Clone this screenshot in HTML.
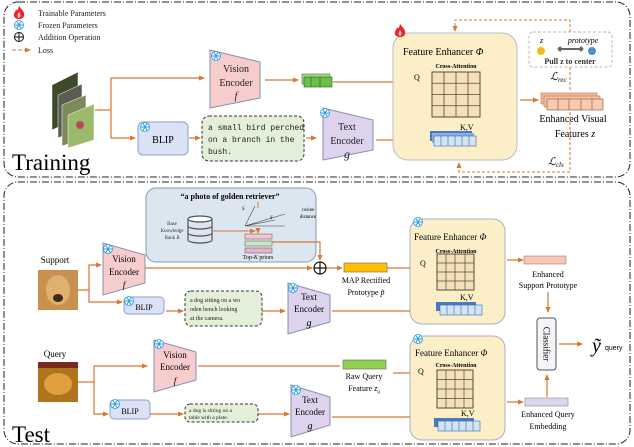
<!DOCTYPE html>
<html><head><meta charset="utf-8"><style>
body{margin:0;background:#fff}
svg{display:block;font-family:"Liberation Serif",serif}
</style></head><body>
<svg width="634" height="447" viewBox="0 0 634 447" xmlns="http://www.w3.org/2000/svg">
<defs>
<marker id="a" markerWidth="6" markerHeight="6" refX="5" refY="3" orient="auto" markerUnits="userSpaceOnUse"><path d="M0,0.5 L6,3 L0,5.5z" fill="#d9762f"/></marker>
<g id="fire"><path d="M6,0 C9,4 12,6 11,10 C10,14 2,14 1,10 C0,7 3,6 3,3 C4,5 5,5 6,0z" fill="#e8262a"/><path d="M6,6 C8,8 8,11 6,12 C4,11 4,9 6,6z" fill="#fff" opacity=".7"/></g>
<g id="snow"><circle cx="0" cy="0" r="4.5" fill="#fff" stroke="#2b9be0" stroke-width="0.8"/><path d="M-4,0H4M-2,-3.5L2,3.5M-2,3.5L2,-3.5" stroke="#2b9be0" stroke-width="1"/></g>
</defs>
<g fill="none" stroke="#222" stroke-width="1" stroke-dasharray="7,2,1,2">
<rect x="4" y="2" width="626" height="175" rx="14"/>
<rect x="4" y="182" width="626" height="262" rx="14"/>
</g>
<!-- legend -->
<use href="#fire" x="13" y="6"/>
<g transform="translate(19,25)"><use href="#snow"/></g>
<circle cx="19" cy="37" r="4.5" fill="none" stroke="#111"/><path d="M14.5,37H23.5M19,32.5V41.5" stroke="#111"/>
<path d="M12,50H30" stroke="#d9762f" stroke-dasharray="4,2" marker-end="url(#a)"/>
<g font-size="8" fill="#222"><text x="38" y="16">Trainable Parameters</text><text x="38" y="28">Frozen Parameters</text><text x="38" y="40">Addition Operation</text><text x="38" y="53">Loss</text></g>
<!-- images -->
<g stroke="#fff" stroke-width="0.5">
<polygon points="52,85 78,72 78,118 52,130" fill="#3d4a2a"/>
<polygon points="58,95 82,84 82,128 58,138" fill="#5b5d52"/>
<polygon points="62,105 86,95 86,138 62,146" fill="#7c8a5a"/>
<polygon points="68,115 94,104 94,140 68,148" fill="#9cbb6a"/>
</g>
<circle cx="80" cy="125" r="4" fill="#b84a5a"/>
<g fill="none" stroke="#d9762f" stroke-width="1.2">
<path d="M95,110H111V78H204" marker-end="url(#a)"/>
<path d="M111,110V138H135" marker-end="url(#a)"/>
<path d="M265,80H298" marker-end="url(#a)"/>
<path d="M189,138H200" marker-end="url(#a)"/>
<path d="M306,138H316" marker-end="url(#a)"/>
<path d="M376,140H426" marker-end="url(#a)"/>
<path d="M333,82H428" marker-end="url(#a)"/>
<path d="M520,100H538" marker-end="url(#a)"/>
<path d="M455,127V119" marker-end="url(#a)"/>
</g>
<!-- vision encoder train -->
<polygon points="210,50 260,62 260,98 210,108" fill="#f7cdcc" stroke="#8a8fb0"/>
<use href="#snow" x="216" y="56"/>
<g font-size="10" text-anchor="middle" fill="#222"><text x="236" y="72">Vision</text><text x="236" y="86">Encoder</text><text x="236" y="99" font-style="italic">f</text></g>
<rect x="302" y="74" width="28" height="10" fill="#a6d78a" stroke="#4a7a3a" stroke-width=".6"/>
<rect x="304" y="77" width="28" height="10" fill="#6cc04a" stroke="#1a5a1a" stroke-width=".6"/>
<path d="M311,77V87M320,77V87" stroke="#1a5a1a" stroke-width=".6"/>
<!-- BLIP train -->
<rect x="138" y="122" width="50" height="33" rx="5" fill="#dbe2f5" stroke="#8ba0cc"/>
<use href="#snow" x="145" y="127"/>
<text x="163" y="143" font-size="10" text-anchor="middle">BLIP</text>
<rect x="202" y="116" width="102" height="45" rx="7" fill="#e3efd9" stroke="#333" stroke-dasharray="3,2"/>
<g font-size="8" font-family="Liberation Mono,monospace" fill="#222"><text x="208" y="130">a small bird perched</text><text x="208" y="142">on a branch in the</text><text x="208" y="154">bush.</text></g>
<!-- text encoder train -->
<polygon points="323,108 373,120 373,150 323,160" fill="#ddd3ec" stroke="#8a8fb0"/>
<use href="#snow" x="325" y="113"/>
<g font-size="10" text-anchor="middle" fill="#222"><text x="347" y="130">Text</text><text x="347" y="144">Encoder</text><text x="347" y="158" font-style="italic" font-size="12">g</text></g>
<!-- FE train -->
<rect x="393" y="33" width="124" height="127" rx="15" fill="#fcefc8" stroke="#b8bccb"/>
<use href="#fire" x="394" y="24"/>
<text x="403" y="55" font-size="10">Feature Enhancer <tspan font-style="italic">Φ</tspan></text>
<text x="456" y="68" font-size="6" font-weight="bold" text-anchor="middle">Cross-Attention</text>
<rect x="432" y="72" width="48" height="45" fill="#f4e1ba" stroke="#5a4a3a"/>
<path d="M444,72V117M456,72V117M468,72V117M432,83.25H480M432,94.5H480M432,105.75H480" stroke="#5a4a3a" stroke-width=".8"/>
<text x="414" y="80" font-size="8">Q</text><text x="460" y="130" font-size="8">K,V</text>
<rect x="430" y="131" width="42" height="10" fill="#4a7ac0"/><rect x="432" y="133" width="42" height="10" fill="#8ab0e0"/>
<rect x="434" y="136" width="42" height="10" fill="#d5e4f3" stroke="#36a" stroke-width=".6"/>
<path d="M441,136V146M448,136V146M455,136V146M462,136V146M469,136V146" stroke="#36a" stroke-width=".6"/>
<!-- enhanced visual -->
<rect x="541" y="93" width="56" height="11" fill="#f4b89a" stroke="#b07050" stroke-width=".6"/>
<rect x="544" y="96" width="56" height="11" fill="#f7c2a4" stroke="#b07050" stroke-width=".6"/>
<rect x="547" y="99" width="56" height="11" fill="#f8cbb0" stroke="#805040" stroke-width=".6"/>
<path d="M558,99V110M569,99V110M581,99V110M592,99V110" stroke="#805040" stroke-width=".6"/>
<g font-size="10" text-anchor="middle"><text x="573" y="122">Enhanced  Visual</text><text x="575" y="137">Features <tspan font-style="italic">z</tspan></text></g>
<rect x="529" y="32" width="83" height="35" rx="4" fill="#fff" stroke="#bbb" stroke-dasharray="3,2"/>
<circle cx="541" cy="51" r="4" fill="#f2b81c"/><circle cx="592" cy="51" r="4" fill="#4a90d9"/>
<path d="M558,49H583M558,49l3,-2M558,49l3,2M583,49l-3,-2M583,49l-3,2" stroke="#666" stroke-width="2"/>
<text x="540" y="43" font-size="8" font-style="italic">z</text>
<text x="583" y="43" font-size="8" font-style="italic" text-anchor="middle">prototype</text>
<text x="570" y="64" font-size="8" text-anchor="middle" font-weight="bold" fill="#333">Pull z to center</text>
<g fill="none" stroke="#d9762f" stroke-width="1" stroke-dasharray="3,2">
<path d="M570,32V20H455V31" marker-end="url(#a)"/>
<path d="M570,67V92"/>
<path d="M570,112V172H459V163" marker-end="url(#a)"/>
</g>
<text x="550" y="80" font-size="11" font-style="italic">ℒ<tspan font-size="7" dy="2">rec</tspan></text>
<text x="548" y="165" font-size="11" font-style="italic">ℒ<tspan font-size="7" dy="2">cls</tspan></text>
<text x="12" y="170" font-size="23">Training</text>

<!-- TEST -->
<rect x="146" y="188" width="170" height="74" rx="10" fill="#dbe6f1" stroke="#8a98a8"/>
<text x="230" y="199" font-size="8" font-weight="bold" text-anchor="middle">“a photo of golden retriever”</text>
<g fill="#fff" stroke="#555" stroke-width="1.2"><ellipse cx="200" cy="219" rx="12" ry="3"/><path d="M188,219V240a12,3 0 0 0 24,0V219M188,226a12,3 0 0 0 24,0M188,233a12,3 0 0 0 24,0" fill="none"/></g>
<g font-size="5" text-anchor="middle" fill="#333"><text x="172" y="225">Base</text><text x="172" y="232">Knowledge</text><text x="172" y="239">Bank <tspan font-style="italic">B</tspan></text></g>
<path d="M213,231H255" stroke="#d9762f" fill="none" marker-end="url(#a)"/>
<path d="M245,226L255,206M245,226L285,214M245,226L275,220M245,226H285" stroke="#444" stroke-width=".6" fill="none"/>
<text x="242" y="210" font-size="5" font-style="italic">S</text><text x="270" y="219" font-size="5" font-style="italic">S</text>
<path d="M258,202V208M258,228V233" stroke="#d9762f" marker-end="url(#a)"/>
<text x="308" y="211" font-size="5" text-anchor="middle">cosine</text><text x="308" y="218" font-size="5" text-anchor="middle">distance</text>
<rect x="245" y="234" width="27" height="5" fill="#f5c6d0" stroke="#555" stroke-width=".5"/>
<rect x="245" y="241" width="27" height="5" fill="#cde4c0" stroke="#555" stroke-width=".5"/>
<rect x="245" y="248" width="27" height="5" fill="#e8b4c8" stroke="#555" stroke-width=".5"/>
<text x="258" y="259" font-size="6" text-anchor="middle">Top-<tspan font-style="italic">K</tspan> priors</text>
<g fill="none" stroke="#d9762f" stroke-width="1.2">
<path d="M272,242H320V260" marker-end="url(#a)"/>
<path d="M145,268H312" marker-end="url(#a)"/>
<path d="M326,268H342" marker-end="url(#a)"/>
<path d="M78,290H89V265H101" marker-end="url(#a)"/>
<path d="M89,290V302H122" marker-end="url(#a)"/>
<path d="M166,311H183" marker-end="url(#a)"/>
<path d="M262,311H285" marker-end="url(#a)"/>
<path d="M332,311H431" marker-end="url(#a)"/>
<path d="M387,268H430" marker-end="url(#a)"/>
<path d="M455,298V290" marker-end="url(#a)"/>
<path d="M507,260H523" marker-end="url(#a)"/>
<path d="M548,292V312" marker-end="url(#a)"/>
<path d="M559,344H582" marker-end="url(#a)"/>
<path d="M78,382H94V366H147" marker-end="url(#a)"/>
<path d="M94,382V414H108" marker-end="url(#a)"/>
<path d="M150,414H183" marker-end="url(#a)"/>
<path d="M258,414H289" marker-end="url(#a)"/>
<path d="M198,366H340"/>
<path d="M332,417H432" marker-end="url(#a)"/>
<path d="M393,373H432" marker-end="url(#a)"/>
<path d="M455,412V404" marker-end="url(#a)"/>
<path d="M507,402H523" marker-end="url(#a)"/>
<path d="M547,397V375" marker-end="url(#a)"/>
</g>
<circle cx="320" cy="268" r="6" fill="#fff" stroke="#111" stroke-width="1.2"/><path d="M314,268H326M320,262V274" stroke="#111" stroke-width="1.2"/>
<rect x="344" y="263" width="43" height="9" fill="#ffc000" stroke="#666" stroke-width=".6"/>
<g font-size="8" text-anchor="middle"><text x="366" y="283">MAP Rectified</text><text x="366" y="295">Prototype <tspan font-style="italic">p̃</tspan></text>
<text x="364" y="379">Raw Query</text><text x="364" y="391">Feature <tspan font-style="italic">z<tspan font-size="5" dy="2">q</tspan></tspan></text></g>
<rect x="343" y="360" width="43" height="9" fill="#92d050" stroke="#666" stroke-width=".6"/>
<text x="55" y="263" font-size="9" text-anchor="middle">Support</text>
<rect x="38" y="270" width="40" height="40" fill="#c8914e"/><ellipse cx="58" cy="290" rx="12" ry="15" fill="#e0b070"/><ellipse cx="58" cy="298" rx="5" ry="4" fill="#3a2a1a"/>
<text x="55" y="357" font-size="9" text-anchor="middle">Query</text>
<rect x="38" y="362" width="40" height="40" fill="#b0741e"/><ellipse cx="58" cy="384" rx="14" ry="11" fill="#e0a040"/><rect x="38" y="362" width="40" height="6" fill="#7a2a1a"/>
<!-- encoders test -->
<polygon points="103,243 145,255 145,283 103,295" fill="#f7cdcc" stroke="#8a8fb0"/><use href="#snow" x="108" y="249"/>
<g font-size="9" text-anchor="middle"><text x="124" y="262">Vision</text><text x="124" y="275">Encoder</text><text x="124" y="288" font-style="italic">f</text></g>
<polygon points="154,340 196,352 196,380 154,392" fill="#f7cdcc" stroke="#8a8fb0"/><use href="#snow" x="159" y="344"/>
<g font-size="9" text-anchor="middle"><text x="175" y="358">Vision</text><text x="175" y="370">Encoder</text><text x="175" y="384" font-style="italic">f</text></g>
<polygon points="288,283 330,295 330,322 288,334" fill="#ddd3ec" stroke="#8a8fb0"/><use href="#snow" x="293" y="288"/>
<g font-size="9" text-anchor="middle"><text x="309" y="300">Text</text><text x="309" y="312">Encoder</text><text x="309" y="326" font-style="italic" font-size="10">g</text></g>
<polygon points="291,385 330,397 330,425 291,437" fill="#ddd3ec" stroke="#8a8fb0"/><use href="#snow" x="296" y="390"/>
<g font-size="9" text-anchor="middle"><text x="310" y="403">Text</text><text x="310" y="415">Encoder</text><text x="310" y="429" font-style="italic" font-size="10">g</text></g>
<rect x="124" y="297" width="40" height="17" rx="4" fill="#dbe2f5" stroke="#8ba0cc"/><use href="#snow" x="129" y="301"/><text x="144" y="310" font-size="8" text-anchor="middle">BLIP</text>
<rect x="110" y="400" width="40" height="19" rx="4" fill="#dbe2f5" stroke="#8ba0cc"/><use href="#snow" x="115" y="404"/><text x="130" y="414" font-size="8" text-anchor="middle">BLIP</text>
<rect x="185" y="291" width="77" height="35" rx="6" fill="#e3efd9" stroke="#333" stroke-dasharray="3,2"/>
<g font-size="6" fill="#222"><text x="190" y="302">a dog sitting on a wo</text><text x="190" y="311">oden bench looking</text><text x="190" y="320">at the camera.</text></g>
<rect x="185" y="404" width="73" height="18" rx="5" fill="#e3efd9" stroke="#333" stroke-dasharray="3,2"/>
<g font-size="5.5" fill="#222"><text x="189" y="412">a dog is sitting on a</text><text x="189" y="419">table with a plate.</text></g>
<!-- FE test -->
<g>
<rect x="410" y="219" width="95" height="105" rx="12" fill="#fcefc8" stroke="#a8b0c0"/><use href="#snow" x="418" y="222"/>
<text x="414" y="240" font-size="9">Feature Enhancer <tspan font-style="italic">Φ</tspan></text>
<text x="456" y="253" font-size="6" font-weight="bold" text-anchor="middle">Cross-Attention</text>
<rect x="437" y="254" width="37" height="36" fill="#f4e1ba" stroke="#5a4a3a"/>
<path d="M446,254V290M455,254V290M465,254V290M437,263H474M437,272H474M437,281H474" stroke="#5a4a3a" stroke-width=".7"/>
<text x="420" y="266" font-size="8">Q</text><text x="460" y="300" font-size="8">K,V</text>
<rect x="436" y="302" width="40" height="9" fill="#4a7ac0"/><rect x="440" y="305" width="42" height="10" fill="#d5e4f3" stroke="#36a" stroke-width=".6"/>
<path d="M447,305V315M454,305V315M461,305V315M468,305V315M475,305V315" stroke="#36a" stroke-width=".6"/>
</g>
<g>
<rect x="410" y="336" width="95" height="104" rx="12" fill="#fcefc8" stroke="#a8b0c0"/><use href="#snow" x="418" y="339"/>
<text x="415" y="356" font-size="9">Feature Enhancer <tspan font-style="italic">Φ</tspan></text>
<text x="456" y="367" font-size="6" font-weight="bold" text-anchor="middle">Cross-Attention</text>
<rect x="437" y="370" width="36" height="38" fill="#f4e1ba" stroke="#5a4a3a"/>
<path d="M446,370V408M455,370V408M464,370V408M437,379.5H473M437,389H473M437,398.5H473" stroke="#5a4a3a" stroke-width=".7"/>
<text x="418" y="374" font-size="8">Q</text><text x="461" y="416" font-size="8">K,V</text>
<rect x="434" y="418" width="40" height="9" fill="#4a7ac0"/><rect x="438" y="421" width="42" height="10" fill="#d5e4f3" stroke="#36a" stroke-width=".6"/>
<path d="M445,421V431M452,421V431M459,421V431M466,421V431M473,421V431" stroke="#36a" stroke-width=".6"/>
</g>
<rect x="524" y="256" width="42" height="8" fill="#f8c6b2" stroke="#888" stroke-width=".6"/>
<g font-size="8" text-anchor="middle"><text x="548" y="277">Enhanced</text><text x="548" y="288">Support Prototype</text><text x="548" y="417">Enhanced Query</text><text x="548" y="429">Embedding</text></g>
<rect x="525" y="398" width="43" height="8" fill="#ddd5ea" stroke="#888" stroke-width=".6"/>
<rect x="537" y="318" width="19" height="52" rx="3" fill="#f3f5f8" stroke="#555"/>
<text x="546.5" y="344" font-size="9" text-anchor="middle" transform="rotate(90 546.5 344)" dy="3">Classifier</text>
<text x="592" y="352" font-size="20" font-style="italic">ỹ</text><text x="605" y="350" font-size="7" font-family="Liberation Sans,sans-serif">query</text>
<text x="12" y="442" font-size="23">Test</text>
</svg>
</body></html>
